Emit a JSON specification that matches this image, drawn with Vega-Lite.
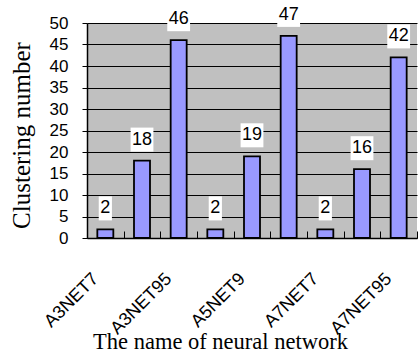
{
  "$schema": "https://vega.github.io/schema/vega-lite/v6.json",
  "width": 330,
  "height": 215,
  "autosize": {"type": "none"},
  "padding": {"left": 87, "top": 23, "right": 1, "bottom": 114},
  "background": "white",
  "config": {
    "view": {"fill": "#C0C0C0", "stroke": null},
    "font": "Liberation Sans"
  },
  "data": {
    "values": [
      {"name": "A3NET7", "value": 2},
      {"name": "A3NET9", "value": 18},
      {"name": "A3NET95", "value": 46},
      {"name": "A5NET7", "value": 2},
      {"name": "A5NET9", "value": 19},
      {"name": "A5NET95", "value": 47},
      {"name": "A7NET7", "value": 2},
      {"name": "A7NET9", "value": 16},
      {"name": "A7NET95", "value": 42}
    ]
  },
  "encoding": {
    "x": {
      "field": "name",
      "type": "nominal",
      "sort": null,
      "scale": {"paddingInner": 0, "paddingOuter": 0},
      "axis": {
        "title": "The name of neural network",
        "titleFont": "Liberation Serif",
        "titleFontSize": 22.5,
        "titleFontWeight": "normal",
        "titleColor": "black",
        "titleX": 133,
        "titleY": 110,
        "titleBaseline": "alphabetic",
        "labelAngle": -45,
        "labelAlign": "right",
        "labelBaseline": "middle",
        "labelFontSize": 18,
        "labelColor": "black",
        "labelPadding": 45,
        "labelOffset": -10,
        "labelExpr": "indexof(['A3NET7','A3NET95','A5NET9','A7NET7','A7NET95'], datum.value) >= 0 ? datum.value : ''",
        "tickBand": "extent",
        "tickSize": -7,
        "tickColor": "black",
        "domainColor": "black",
        "domainWidth": 1.5,
        "grid": false
      }
    },
    "y": {
      "field": "value",
      "type": "quantitative",
      "scale": {"domain": [0, 50], "nice": false},
      "axis": {
        "title": "Clustering number",
        "titleFont": "Liberation Serif",
        "titleFontSize": 25,
        "titleFontWeight": "normal",
        "titleColor": "black",
        "titleX": -58,
        "titleY": 112,
        "titleBaseline": "alphabetic",
        "titleAngle": -90,
        "values": [0, 5, 10, 15, 20, 25, 30, 35, 40, 45, 50],
        "labelFontSize": 17,
        "labelColor": "black",
        "labelPadding": 14,
        "tickSize": 5,
        "tickColor": "black",
        "domainColor": "black",
        "domainWidth": 1.5,
        "grid": true,
        "gridColor": "black",
        "gridWidth": 1,
        "gridOpacity": 1
      }
    }
  },
  "layer": [
    {
      "mark": {"type": "bar", "width": 16, "fill": "#9999FF", "stroke": "black", "strokeWidth": 1.8}
    },
    {
      "transform": [{"filter": "datum.value < 10"}],
      "mark": {"type": "point", "shape": "M-0.55,-1H0.55V1H-0.55Z", "size": 576, "filled": true, "fill": "white", "opacity": 1, "strokeWidth": 0, "yOffset": -21}
    },
    {
      "transform": [{"filter": "datum.value >= 10"}],
      "mark": {"type": "point", "shape": "M-0.95,-1H0.95V1H-0.95Z", "size": 576, "filled": true, "fill": "white", "opacity": 1, "strokeWidth": 0, "yOffset": -21}
    },
    {
      "mark": {"type": "text", "fontSize": 18, "color": "black", "baseline": "middle", "align": "center", "yOffset": -21},
      "encoding": {"text": {"field": "value", "type": "quantitative"}}
    }
  ]
}
